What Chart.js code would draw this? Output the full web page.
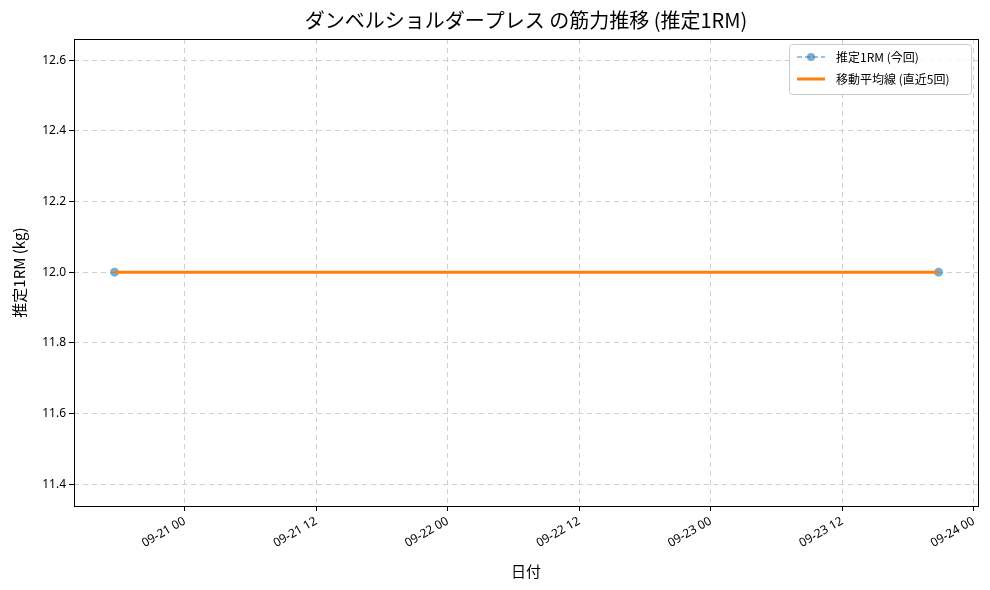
<!DOCTYPE html>
<html><head><meta charset="utf-8">
<script src="https://cdn.jsdelivr.net/npm/chart.js@4"></script>
<style>body{margin:0;background:#fff}#w{width:990px;height:590px}</style>
</head><body><div id="w"><canvas id="c"></canvas></div>
<script>
// x values: hours since 2023-09-21 00:00
const dateHours = [-6.4, 68.8];
const est1RM = [12.0, 12.0];
const movingAvg = [12.0, 12.0];
const xTickHours = [0, 12, 24, 36, 48, 60, 72];
const xTickLabels = ['09-21 00','09-21 12','09-22 00','09-22 12','09-23 00','09-23 12','09-24 00'];
const yTicks = [11.4, 11.6, 11.8, 12.0, 12.2, 12.4, 12.6];
const F = '"Noto Sans CJK JP", "Noto Sans", sans-serif';
const TF = '"Noto Sans", "DejaVu Sans", sans-serif';
Chart.defaults.font.family = F;
Chart.defaults.color = '#000';
const pts = (ys) => dateHours.map((x,i)=>({x, y: ys[i]}));
const extra = {
  id:'extra',
  afterDraw(ch){
    const c = ch.ctx, a = ch.chartArea;
    c.save();
    c.strokeStyle='#000'; c.lineWidth=1;
    c.strokeRect(a.left+0.5,a.top+0.5,a.right-a.left,a.bottom-a.top);
    c.fillStyle='#000'; c.textAlign='center'; c.textBaseline='middle';
    c.font='20px '+F;
    c.fillText('ダンベルショルダープレス の筋力推移 (推定1RM)', (a.left+a.right)/2, 20);
    c.font='15px '+F;
    c.fillText('日付', (a.left+a.right)/2, 571);
    c.save(); c.translate(19,(a.top+a.bottom)/2); c.rotate(-Math.PI/2);
    c.fillText('推定1RM (kg)',0,0); c.restore();
    // legend
    const lx=789, ly=44, lw=182, lh=50;
    c.fillStyle='rgba(255,255,255,0.8)'; c.strokeStyle='#ccc';
    c.beginPath(); c.roundRect(lx+0.5,ly+0.5,lw,lh,3); c.fill(); c.stroke();
    c.strokeStyle='rgba(31,119,180,0.6)'; c.lineWidth=1.5; c.setLineDash([5,3]);
    c.beginPath(); c.moveTo(lx+8,ly+13); c.lineTo(lx+36,ly+13); c.stroke(); c.setLineDash([]);
    c.fillStyle='rgba(31,119,180,0.6)'; c.beginPath(); c.arc(lx+22,ly+13,4,0,7); c.fill();
    c.strokeStyle='#ff7f0e'; c.lineWidth=3;
    c.beginPath(); c.moveTo(lx+8,ly+35); c.lineTo(lx+36,ly+35); c.stroke();
    c.fillStyle='#000'; c.textAlign='left'; c.font='12px '+F;
    c.fillText('推定1RM (今回)', lx+47, ly+13);
    c.fillText('移動平均線 (直近5回)', lx+47, ly+35);
    c.restore();
  }
};
new Chart(document.getElementById('c'), {
  type:'scatter',
  data:{datasets:[
    {data:pts(est1RM), showLine:true, borderColor:'rgba(31,119,180,0.6)', backgroundColor:'rgba(31,119,180,0.6)', borderDash:[5,3], borderWidth:1.5, pointRadius:4.5, pointBorderWidth:0, order:2},
    {data:pts(movingAvg), showLine:true, borderColor:'#ff7f0e', borderWidth:3, pointRadius:0, order:1}
  ]},
  options:{
    responsive:true, maintainAspectRatio:false, animation:false,
    layout:{padding:{top:39,right:12,left:0,bottom:0}},
    plugins:{legend:{display:false},tooltip:{enabled:false}},
    scales:{
      x:{type:'linear', min:-10.1, max:72.4,
        afterBuildTicks(s){s.ticks=xTickHours.map(v=>({value:v}));},
        afterFit(s){s.height=84;},
        ticks:{maxRotation:30,minRotation:30,font:{size:12,family:TF},callback:(v)=>xTickLabels[xTickHours.indexOf(v)]},
        grid:{color:'#d0d0d0', tickLength:5, tickColor:'#000', drawTicks:true},
        border:{display:false, dash:[5,4]}},
      y:{min:11.338, max:12.66,
        afterBuildTicks(s){s.ticks=yTicks.map(v=>({value:v}));},
        afterFit(s){s.width=74;},
        ticks:{font:{size:12,family:TF},callback:(v)=>v.toFixed(1)},
        grid:{color:'#d0d0d0', tickLength:5, tickColor:'#000'},
        border:{display:false, dash:[5,4]}}
    }
  },
  plugins:[extra]
});
</script></body></html>
